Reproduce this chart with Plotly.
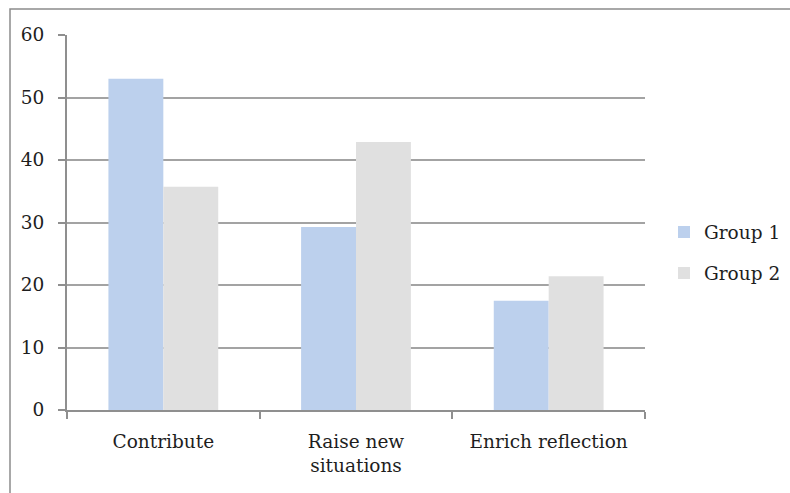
import plotly.graph_objects as go

categories = ["Contribute", "Raise new<br>situations", "Enrich reflection"]
group1 = [53.0, 29.3, 17.5]
group2 = [35.7, 42.9, 21.4]
y_ticks = [0, 10, 20, 30, 40, 50, 60]

FONT = "Palatino Linotype, Book Antiqua, Palatino, DejaVu Serif, serif"
TEXT = "#1e1e1e"
GRID = "#a3a3a3"
AXIS = "#8f8f8f"

fig = go.Figure()
fig.add_trace(go.Bar(name="Group 1", x=categories, y=group1,
                     marker=dict(color="#bcd0ed", line=dict(width=0)),
                     legendgroup="g1"))
fig.add_trace(go.Bar(name="Group 2", x=categories, y=group2,
                     marker=dict(color="#e0e0e0", line=dict(width=0)),
                     legendgroup="g2"))

W, H = 790, 493
L, R, T, B = 67, 145, 35, 83
pw, ph = W - L - R, H - T - B

# chart frame (extends past the right/bottom edge of the page)
fig.add_shape(type="rect", xref="paper", yref="paper",
              x0=(10 - L) / pw, x1=(810 - L) / pw,
              y0=(H - B - 520) / ph, y1=1 + (T - 9) / ph,
              line=dict(color="#8c8c8c", width=1.5), fillcolor="rgba(0,0,0,0)",
              layer="below")

fig.update_layout(
    width=W, height=H,
    margin=dict(l=L, r=R, t=T, b=B, autoexpand=False),
    paper_bgcolor="white", plot_bgcolor="white",
    barmode="group", bargap=0.43, bargroupgap=0,
    font=dict(family=FONT, size=18.5, color=TEXT),
    showlegend=True,
    legend=dict(xref="container", yref="container",
                x=664 / W, y=1 - 253 / H, xanchor="left", yanchor="middle",
                traceorder="grouped", tracegroupgap=14,
                font=dict(family=FONT, size=18.5, color=TEXT),
                bgcolor="rgba(0,0,0,0)"),
    xaxis=dict(showline=True, linecolor=AXIS, linewidth=2,
               ticks="outside", tickson="boundaries", ticklen=7,
               tickcolor=AXIS, tickwidth=1.5, showgrid=False,
               ticklabelstandoff=14,
               tickfont=dict(family=FONT, size=18.5, color=TEXT)),
    yaxis=dict(range=[0, 60], tickvals=y_ticks, showline=True,
               linecolor=AXIS, linewidth=2, ticks="outside", ticklen=7,
               tickcolor=AXIS, tickwidth=1.5, showgrid=True,
               gridcolor=GRID, gridwidth=1.5, zeroline=False,
               ticklabelstandoff=10,
               tickfont=dict(family=FONT, size=18.5, color=TEXT)),
)

fig.write_html("out.html")
